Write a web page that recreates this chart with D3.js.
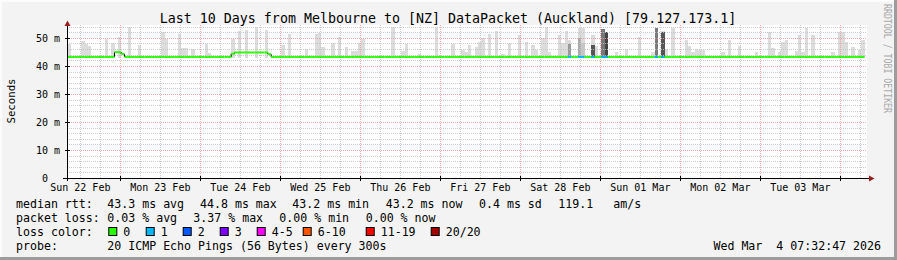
<!DOCTYPE html>
<html>
<head>
<meta charset="utf-8">
<script src="https://cdn.jsdelivr.net/npm/d3@7"></script>
<style>
  html, body { margin: 0; padding: 0; background: #f3f3f3; }
  svg { display: block; font-family: "DejaVu Sans Mono", monospace; }
  text { white-space: pre; }
</style>
</head>
<body>
<svg width="897" height="260"></svg>
<script>
const title = 'Last 10 Days from Melbourne to [NZ] DataPacket (Auckland) [79.127.173.1]';
const yLabel = 'Seconds';
const yTicks = [0, 10, 20, 30, 40, 50];

// hourly slots, counted from 2026-02-22 00:15 UTC
const slotStart = Date.UTC(2026, 1, 22, 0, 15);
const firstSlot = 7, lastSlot = 246;

// median rtt (ms): flat base with a few raised hours
const medianBase = 43.2;
const medianRaised = [
  [22, 44.9], [23, 44.9], [24, 44.3],
  [57, 44.35], [58, 44.8], [59, 44.8], [60, 44.8], [61, 44.8], [62, 44.8],
  [63, 44.8], [64, 44.8], [65, 44.8], [66, 44.8], [67, 44.8], [68, 44.2]
];

// slots with packet loss (slot, lost pings)
const lossSlots = [[158, 1], [161, 1], [162, 1], [165, 1], [168, 1], [169, 1], [184, 1], [186, 1]];

// smoke: highest ping per slot (ms)
const smokeMax = [
  [8, 47.8], [12, 48.8], [13, 47.9], [14, 47.0], [19, 49.5], [21, 48.2], [23, 50.2], [26, 53.8],
  [29, 47.4], [36, 52.0], [37, 49.5], [41, 51.4], [42, 46.5], [43, 46.5], [45, 45.9], [49, 47.9],
  [50, 44.7], [57, 49.5], [59, 52.3], [61, 52.7], [64, 53.9], [67, 52.8], [72, 47.3], [74, 51.4],
  [79, 46.2], [82, 51.4], [83, 51.7], [84, 46.6], [87, 48.3], [89, 50.2], [91, 46.6], [93, 45.2],
  [94, 45.5], [95, 48.2], [96, 49.5], [105, 53.9], [108, 45.2], [109, 47.8], [113, 44.3], [118, 53.9],
  [123, 47.9], [126, 45.7], [127, 45.0], [128, 47.3], [130, 46.6], [131, 48.7], [132, 50.0], [134, 51.5],
  [136, 52.3], [138, 44.3], [140, 48.0], [143, 50.9], [145, 48.4], [147, 47.3], [148, 45.8], [150, 50.1],
  [151, 53.9], [152, 44.8], [155, 50.9], [156, 48.0], [157, 52.6], [158, 49.4], [161, 53.6], [162, 53.6],
  [165, 50.9], [166, 47.0], [168, 53.3], [169, 52.2], [172, 45.0], [175, 46.0], [179, 50.4], [183, 44.9],
  [184, 53.7], [186, 52.6], [187, 46.0], [189, 53.7], [193, 49.1], [194, 47.2], [195, 44.9], [196, 46.1],
  [197, 45.8], [198, 45.8], [204, 44.8], [206, 49.1], [209, 47.1], [214, 44.8], [218, 52.0], [219, 46.4],
  [221, 44.8], [222, 48.7], [223, 49.1], [226, 45.4], [227, 51.1], [228, 44.8], [229, 53.7], [231, 51.1],
  [237, 44.8], [239, 52.0], [240, 52.0], [241, 48.4], [243, 46.6], [245, 45.8], [246, 49.1]
];
// denser smoke where many pings were slow (slot, ms, shade)
const smokeDense = [
  [158, 47.8, '#999999'], [161, 49.9, '#aaaaaa'], [162, 48.0, '#c6c6c6'], [165, 47.3, '#555555'],
  [168, 53.3, '#777777'], [169, 52.2, '#444444'], [184, 53.7, '#7a7a7a'], [186, 52.0, '#555555']
];
const smokeFloor = 43.0;

const rttStats = ['43.3 ms avg', '44.8 ms max', '43.2 ms min', '43.2 ms now', '0.4 ms sd', '119.1', 'am/s'];
const lossStats = ['0.03 % avg', '3.37 % max', '0.00 % min', '0.00 % now'];
const lossLabels = ['0', '1', '2', '3', '4-5', '6-10', '11-19', '20/20'];
const lossColors = ['#26ff00', '#00b8ff', '#0059ff', '#7e00ff', '#ff00ff', '#ff5500', '#ff0000', '#a10000'];
const probeText = '20 ICMP Echo Pings (56 Bytes) every 300s';
const stamp = 'Wed Mar  4 07:32:47 2026';
const watermark = 'RRDTOOL / TOBI OETIKER';

const svg = d3.select('svg');
const W = 897, H = 260;
const plot = {left: 67, right: 867, top: 25, bottom: 178};

const x = d3.scaleUtc()
    .domain([Date.UTC(2026, 1, 22, 8), Date.UTC(2026, 2, 4, 8)])
    .range([plot.left, plot.right]);
const y = d3.scaleLinear()
    .domain([0, 54.6])
    .range([plot.bottom, plot.top]);
const slotTime = i => new Date(slotStart + i * 3600e3);
const sx = i => x(slotTime(i));

// canvas + frame
svg.append('rect').attr('width', W).attr('height', H).attr('fill', '#f3f3f3');
svg.append('rect').attr('x', 0).attr('y', 0).attr('width', W).attr('height', 2).attr('fill', '#fcfcfc');
svg.append('rect').attr('x', 0).attr('y', 0).attr('width', 2).attr('height', H).attr('fill', '#fcfcfc');
svg.append('rect').attr('x', 0).attr('y', H - 3).attr('width', W).attr('height', 3).attr('fill', '#9c9c9c');
svg.append('rect').attr('x', W - 3).attr('y', 0).attr('width', 3).attr('height', H).attr('fill', '#9c9c9c');

svg.append('rect')
    .attr('x', plot.left).attr('y', plot.top)
    .attr('width', plot.right - plot.left).attr('height', plot.bottom - plot.top)
    .attr('fill', '#ffffff');

svg.append('clipPath').attr('id', 'clip')
  .append('rect')
    .attr('x', plot.left).attr('y', plot.top)
    .attr('width', plot.right - plot.left).attr('height', plot.bottom - plot.top);

const g = svg.append('g').attr('clip-path', 'url(#clip)');

// smoke
g.append('g').attr('shape-rendering', 'crispEdges')
  .selectAll('rect').data(smokeMax).join('rect')
    .attr('x', d => sx(d[0]))
    .attr('width', d => sx(d[0] + 1) - sx(d[0]))
    .attr('y', d => y(d[1]))
    .attr('height', d => y(smokeFloor) - y(d[1]))
    .attr('fill', '#dcdcdc');

g.append('g').attr('shape-rendering', 'crispEdges')
  .selectAll('rect').data(smokeDense).join('rect')
    .attr('x', d => sx(d[0]))
    .attr('width', d => sx(d[0] + 1) - sx(d[0]))
    .attr('y', d => y(d[1]))
    .attr('height', d => y(smokeFloor) - y(d[1]))
    .attr('fill', d => d[2]);

// grid
const [t0, t1] = x.domain();
const grid = g.append('g').attr('fill', 'none').attr('stroke-dasharray', '1,1').attr('opacity', 0.85);
const minorY = d3.range(2, 55, 2).filter(v => v % 10 !== 0);
const majorY = yTicks.filter(v => v > 0);
const minorX = d3.utcHour.every(6).range(t0, t1).filter(d => d.getUTCHours() !== 0);
const majorX = d3.utcDay.range(t0, t1);
const py = v => Math.round(y(v)) + 0.5;
const px = d => Math.round(x(d)) + 0.5;

grid.selectAll('.hmin').data(minorY).join('line')
    .attr('x1', plot.left).attr('x2', plot.right)
    .attr('y1', py).attr('y2', py)
    .attr('stroke', '#c4c4c4');
grid.selectAll('.vmin').data(minorX).join('line')
    .attr('x1', px).attr('x2', px)
    .attr('y1', plot.top).attr('y2', plot.bottom)
    .attr('stroke', '#c4c4c4');
grid.selectAll('.hmaj').data(majorY).join('line')
    .attr('x1', plot.left).attr('x2', plot.right)
    .attr('y1', py).attr('y2', py)
    .attr('stroke', '#f09a9a');
grid.selectAll('.vmaj').data(majorX).join('line')
    .attr('x1', px).attr('x2', px)
    .attr('y1', plot.top).attr('y2', plot.bottom)
    .attr('stroke', '#f09a9a');

// median line, coloured by loss
const raised = new Map(medianRaised);
const lost = new Map(lossSlots);
const median = d3.range(firstSlot, lastSlot + 1).map(i => ({
  i, v: raised.has(i) ? raised.get(i) : medianBase, loss: lost.get(i) || 0
}));

g.append('g')
  .selectAll('line').data(median.filter((d, k) => k > 0 && d.v !== median[k - 1].v)).join('line')
    .attr('x1', d => sx(d.i)).attr('x2', d => sx(d.i))
    .attr('y1', d => y(median[median.indexOf(d) - 1].v))
    .attr('y2', d => y(d.v))
    .attr('stroke', '#000').attr('stroke-width', 1);

g.append('g')
  .selectAll('line').data(median).join('line')
    .attr('x1', d => sx(d.i)).attr('x2', d => sx(d.i + 1))
    .attr('y1', d => y(d.v)).attr('y2', d => y(d.v))
    .attr('stroke', d => lossColors[d.loss])
    .attr('stroke-width', 2);

// axes
const axisCol = '#000';
svg.append('line')
    .attr('x1', 63).attr('x2', 870).attr('y1', plot.bottom + 0.5).attr('y2', plot.bottom + 0.5)
    .attr('stroke', axisCol);
svg.append('line')
    .attr('x1', plot.left + 0.5).attr('x2', plot.left + 0.5).attr('y1', plot.bottom + 3).attr('y2', 24)
    .attr('stroke', axisCol);
svg.append('path')
    .attr('d', `M869,175.5L874.5,178.5L869,181.5Z`).attr('fill', '#9a1f1f');
svg.append('path')
    .attr('d', `M64.5,26L67.5,20.5L70.5,26Z`).attr('fill', '#9a1f1f');

// tick marks on axes
svg.append('g').selectAll('line').data(majorY).join('line')
    .attr('x1', plot.left - 2).attr('x2', plot.left + 3)
    .attr('y1', py).attr('y2', py).attr('stroke', axisCol);
svg.append('g').selectAll('line').data(majorX).join('line')
    .attr('x1', px).attr('x2', px)
    .attr('y1', plot.bottom - 2).attr('y2', plot.bottom + 3).attr('stroke', axisCol);

// y tick labels
svg.append('g')
    .attr('font-size', 10).attr('text-anchor', 'end').attr('fill', '#000')
  .selectAll('text').data(yTicks).join('text')
    .attr('x', 60)
    .attr('y', d => y(d) + 4)
    .text(d => d === 0 ? '0  ' : d + ' m');

// x labels at noon of each day shown
const fmt = d3.utcFormat('%a %d %b');
const noons = majorX.map(d => d3.utcHour.offset(d, -12));
svg.append('g')
    .attr('font-size', 10).attr('text-anchor', 'middle').attr('fill', '#000')
  .selectAll('text').data(noons).join('text')
    .attr('x', d => x(d))
    .attr('y', 190.5)
    .text(d => fmt(d));

// title
svg.append('text')
    .attr('x', 448).attr('y', 23)
    .attr('font-size', 13.3).attr('text-anchor', 'middle').attr('fill', '#000')
    .text(title);

svg.append('text')
    .attr('transform', 'translate(15,101) rotate(-90)')
    .attr('font-size', 10.7).attr('text-anchor', 'middle').attr('fill', '#000')
    .text(yLabel);

svg.append('text')
    .attr('transform', 'translate(884,4) rotate(90)')
    .attr('font-size', 10).attr('fill', '#aaaaaa')
    .attr('textLength', 109).attr('lengthAdjust', 'spacingAndGlyphs')
    .text(watermark);

// legend
const leg = svg.append('g').attr('font-size', 11.6).attr('fill', '#000');
const rows = [207.6, 221.8, 236, 250.2];
const rttX = [107.3, 200, 292.3, 385.7, 479, 558.3, 613.3];
const lossX = [107.3, 193.3, 279.3, 365.7];
const swatchX = [108.3, 145.7, 182.7, 219.7, 256.7, 302.7, 365.7, 430.7];

leg.append('text').attr('x', 16).attr('y', rows[0]).text('median rtt:');
leg.selectAll('.rtt').data(rttStats).join('text')
    .attr('x', (d, i) => rttX[i]).attr('y', rows[0]).text(d => d);

leg.append('text').attr('x', 16).attr('y', rows[1]).text('packet loss:');
leg.selectAll('.loss').data(lossStats).join('text')
    .attr('x', (d, i) => lossX[i]).attr('y', rows[1]).text(d => d);

leg.append('text').attr('x', 16).attr('y', rows[2]).text('loss color:');
const sw = leg.selectAll('.sw').data(lossLabels).join('g');
sw.append('rect')
    .attr('x', (d, i) => swatchX[i] + 0.5).attr('y', 227.5)
    .attr('width', 8).attr('height', 8)
    .attr('fill', (d, i) => lossColors[i]).attr('stroke', '#000');
sw.append('text')
    .attr('x', (d, i) => swatchX[i] + 15).attr('y', rows[2]).text(d => d);

leg.append('text').attr('x', 16).attr('y', rows[3]).text('probe:');
leg.append('text').attr('x', 107.3).attr('y', rows[3]).text(probeText);
leg.append('text').attr('x', 881).attr('y', rows[3]).attr('text-anchor', 'end').text(stamp);
</script>
</body>
</html>
